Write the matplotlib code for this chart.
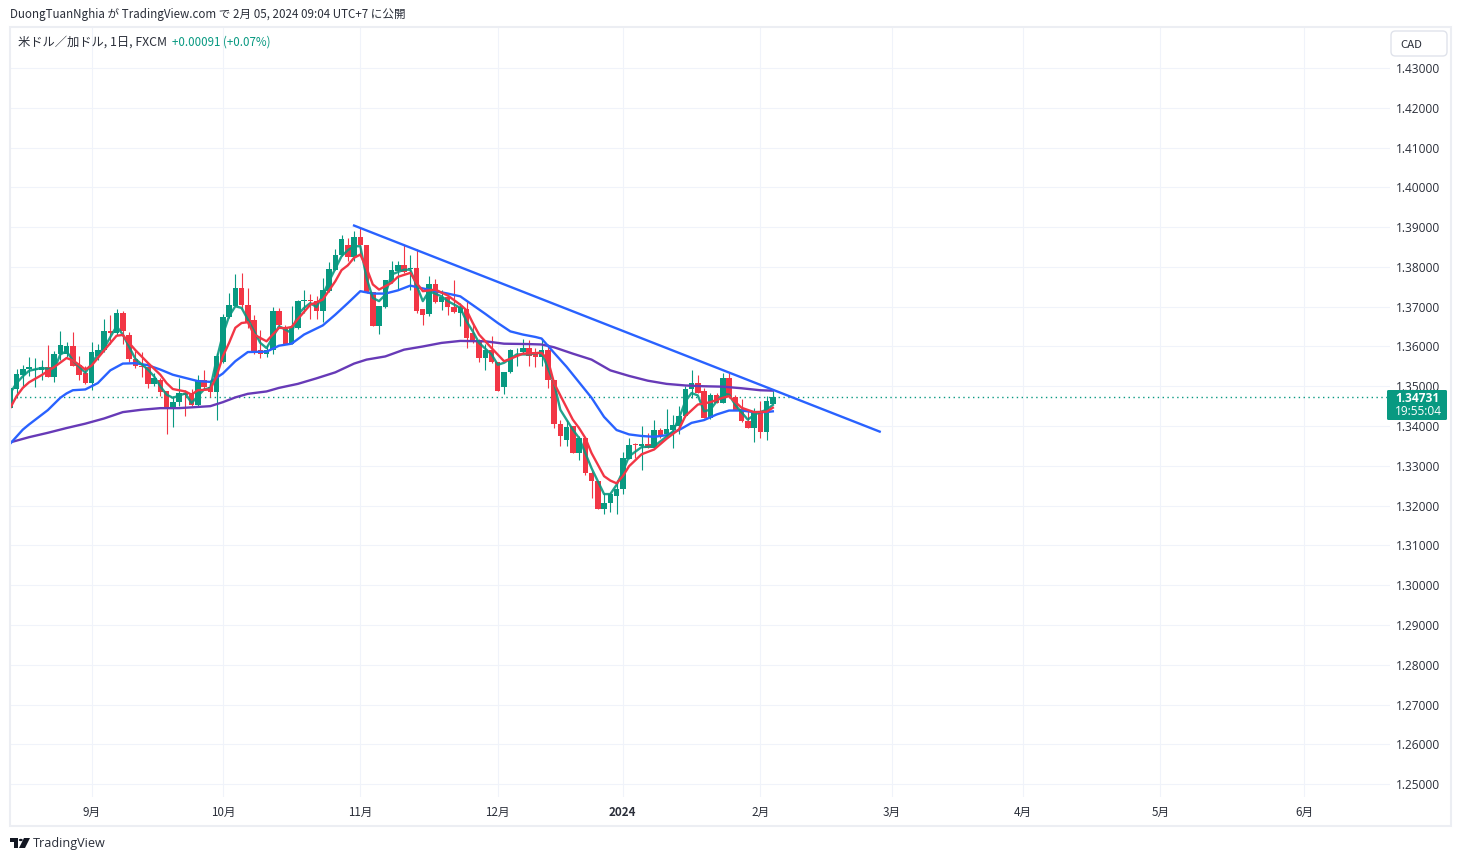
import matplotlib
matplotlib.use('Agg')
import matplotlib.pyplot as plt
from matplotlib.patches import Rectangle, FancyBboxPatch, Polygon, Circle

# USD/CAD daily candles
opens = [1.3446, 1.3494, 1.3529, 1.3543, 1.3542, 1.3542, 1.3549, 1.3523, 1.3580, 1.3581,
         1.3600, 1.3554, 1.3533, 1.3508, 1.3577, 1.3590, 1.3640, 1.3635, 1.3685, 1.3629,
         1.3569, 1.3552, 1.3549, 1.3505, 1.3517, 1.3487, 1.3444, 1.3460, 1.3484, 1.3482,
         1.3452, 1.3516, 1.3499, 1.3485, 1.3560, 1.3673, 1.3703, 1.3746, 1.3704, 1.3667,
         1.3590, 1.3580, 1.3591, 1.3690, 1.3647, 1.3607, 1.3646, 1.3714, 1.3717, 1.3715,
         1.3688, 1.3739, 1.3793, 1.3829, 1.3854, 1.3824, 1.3874, 1.3856, 1.3738, 1.3651,
         1.3699, 1.3761, 1.3791, 1.3806, 1.3795, 1.3798, 1.3693, 1.3681, 1.3756, 1.3711,
         1.3725, 1.3699, 1.3684, 1.3695, 1.3634, 1.3616, 1.3572, 1.3590, 1.3562, 1.3497,
         1.3535, 1.3590, 1.3586, 1.3597, 1.3581, 1.3573, 1.3590, 1.3517, 1.3406, 1.3364,
         1.3399, 1.3331, 1.3369, 1.3282, 1.3263, 1.3192, 1.3206, 1.3225, 1.3241, 1.3317,
         1.3354, 1.3349, 1.3356, 1.3346, 1.3391, 1.3379, 1.3391, 1.3401, 1.3424, 1.3492,
         1.3507, 1.3487, 1.3419, 1.3479, 1.3459, 1.3522, 1.3473, 1.3443, 1.3413, 1.3396,
         1.3433, 1.3384, 1.3456]
closes = [1.3496, 1.3532, 1.3544, 1.3549, 1.3544, 1.3549, 1.3523, 1.3581, 1.3604, 1.3600,
          1.3550, 1.3529, 1.3508, 1.3586, 1.3590, 1.3640, 1.3633, 1.3685, 1.3638, 1.3568,
          1.3550, 1.3548, 1.3505, 1.3521, 1.3485, 1.3443, 1.3461, 1.3483, 1.3478, 1.3452,
          1.3516, 1.3497, 1.3485, 1.3577, 1.3675, 1.3705, 1.3746, 1.3704, 1.3658, 1.3586,
          1.3580, 1.3591, 1.3690, 1.3653, 1.3607, 1.3648, 1.3715, 1.3717, 1.3714, 1.3689,
          1.3741, 1.3796, 1.3831, 1.3869, 1.3824, 1.3874, 1.3854, 1.3735, 1.3651, 1.3701,
          1.3766, 1.3793, 1.3806, 1.3787, 1.3797, 1.3690, 1.3680, 1.3756, 1.3711, 1.3725,
          1.3699, 1.3686, 1.3699, 1.3622, 1.3613, 1.3572, 1.3591, 1.3560, 1.3487, 1.3537,
          1.3592, 1.3592, 1.3597, 1.3575, 1.3573, 1.3590, 1.3515, 1.3404, 1.3375, 1.3398,
          1.3331, 1.3370, 1.3281, 1.3261, 1.3192, 1.3207, 1.3230, 1.3242, 1.3320, 1.3353,
          1.3352, 1.3356, 1.3346, 1.3391, 1.3377, 1.3393, 1.3403, 1.3426, 1.3494, 1.3507,
          1.3484, 1.3421, 1.3479, 1.3458, 1.3522, 1.3472, 1.3441, 1.3412, 1.3396, 1.3434,
          1.3384, 1.3464, 1.3473]
highs = [1.3503, 1.3544, 1.3553, 1.3574, 1.3571, 1.3567, 1.3604, 1.3588, 1.3639, 1.3612,
         1.3637, 1.3577, 1.3550, 1.3612, 1.3605, 1.3670, 1.3678, 1.3695, 1.3690, 1.3637,
         1.3588, 1.3586, 1.3550, 1.3534, 1.3521, 1.3487, 1.3475, 1.3521, 1.3490, 1.3492,
         1.3529, 1.3542, 1.3512, 1.3584, 1.3681, 1.3735, 1.3781, 1.3785, 1.3746, 1.3680,
         1.3642, 1.3604, 1.3699, 1.3697, 1.3653, 1.3703, 1.3718, 1.3741, 1.3733, 1.3726,
         1.3772, 1.3813, 1.3844, 1.3881, 1.3873, 1.3891, 1.3901, 1.3856, 1.3738, 1.3701,
         1.3766, 1.3816, 1.3816, 1.3856, 1.3831, 1.3844, 1.3693, 1.3778, 1.3770, 1.3743,
         1.3730, 1.3766, 1.3710, 1.3714, 1.3659, 1.3619, 1.3607, 1.3626, 1.3562, 1.3537,
         1.3594, 1.3596, 1.3619, 1.3617, 1.3596, 1.3619, 1.3607, 1.3517, 1.3416, 1.3416,
         1.3399, 1.3375, 1.3369, 1.3286, 1.3263, 1.3232, 1.3232, 1.3265, 1.3335, 1.3370,
         1.3358, 1.3399, 1.3383, 1.3414, 1.3395, 1.3443, 1.3429, 1.3450, 1.3500, 1.3542,
         1.3529, 1.3496, 1.3483, 1.3483, 1.3534, 1.3534, 1.3479, 1.3467, 1.3441, 1.3446,
         1.3463, 1.3475, 1.3487]
lows = [1.3446, 1.3471, 1.3500, 1.3525, 1.3497, 1.3515, 1.3523, 1.3510, 1.3567, 1.3574,
        1.3550, 1.3515, 1.3506, 1.3490, 1.3567, 1.3585, 1.3607, 1.3630, 1.3607, 1.3562,
        1.3545, 1.3523, 1.3495, 1.3500, 1.3475, 1.3379, 1.3397, 1.3450, 1.3425, 1.3450,
        1.3451, 1.3492, 1.3473, 1.3416, 1.3559, 1.3672, 1.3701, 1.3693, 1.3647, 1.3582,
        1.3570, 1.3574, 1.3581, 1.3651, 1.3607, 1.3605, 1.3643, 1.3683, 1.3670, 1.3669,
        1.3661, 1.3737, 1.3792, 1.3827, 1.3814, 1.3814, 1.3831, 1.3735, 1.3651, 1.3631,
        1.3697, 1.3760, 1.3745, 1.3785, 1.3743, 1.3684, 1.3655, 1.3676, 1.3710, 1.3691,
        1.3680, 1.3684, 1.3651, 1.3595, 1.3609, 1.3560, 1.3542, 1.3559, 1.3487, 1.3480,
        1.3534, 1.3550, 1.3584, 1.3550, 1.3548, 1.3550, 1.3496, 1.3394, 1.3351, 1.3351,
        1.3331, 1.3314, 1.3278, 1.3220, 1.3191, 1.3178, 1.3183, 1.3178, 1.3228, 1.3316,
        1.3320, 1.3289, 1.3346, 1.3344, 1.3370, 1.3370, 1.3344, 1.3379, 1.3423, 1.3471,
        1.3483, 1.3421, 1.3418, 1.3457, 1.3457, 1.3471, 1.3440, 1.3411, 1.3396, 1.3359,
        1.3369, 1.3366, 1.3456]

# moving averages, bar number and price at the bends
green_bars = [0, 1, 2, 3, 5, 7, 8, 9, 10, 12, 14, 15, 17, 18, 20, 22, 23, 24, 25, 26, 28, 29, 31, 32, 33, 34,
              35, 36, 37, 38, 40, 41, 43, 45, 46, 47, 48, 49, 50, 51, 53, 54, 55, 56, 57, 58, 59, 60, 61, 63,
              64, 66, 67, 69, 70, 72, 73, 74, 75, 77, 78, 79, 81, 83, 85, 86, 87, 88, 90, 91, 93, 95, 96, 97,
              98, 99, 101, 103, 106, 107, 108, 109, 110, 111, 112, 113, 114, 115, 116, 118, 119, 120, 121, 122]
green_ma = [1.3483, 1.3508, 1.3525, 1.3539, 1.3546, 1.3542, 1.3580, 1.3588, 1.3565, 1.3534, 1.3580, 1.3596,
            1.3651, 1.3630, 1.3569, 1.3542, 1.3525, 1.3500, 1.3479, 1.3471, 1.3482, 1.3458, 1.3492, 1.3496,
            1.3567, 1.3630, 1.3676, 1.3701, 1.3697, 1.3668, 1.3609, 1.3596, 1.3651, 1.3634, 1.3680, 1.3697,
            1.3709, 1.3699, 1.3730, 1.3764, 1.3827, 1.3842, 1.3852, 1.3852, 1.3772, 1.3722, 1.3714, 1.3730,
            1.3781, 1.3793, 1.3793, 1.3714, 1.3739, 1.3726, 1.3714, 1.3697, 1.3663, 1.3638, 1.3609, 1.3580,
            1.3554, 1.3559, 1.3580, 1.3580, 1.3585, 1.3546, 1.3508, 1.3441, 1.3391, 1.3370, 1.3294, 1.3229,
            1.3229, 1.3252, 1.3286, 1.3324, 1.3347, 1.3349, 1.3386, 1.3420, 1.3462, 1.3483, 1.3477, 1.3437,
            1.3441, 1.3462, 1.3481, 1.3479, 1.3453, 1.3416, 1.3428, 1.3435, 1.3441, 1.3453]
red_bars = [0, 1, 2, 3, 5, 7, 9, 10, 11, 12, 13, 15, 17, 18, 19, 20, 22, 24, 25, 26, 28, 29, 30, 32, 33, 34,
            35, 36, 37, 38, 39, 41, 43, 44, 45, 46, 48, 49, 50, 52, 53, 54, 55, 56, 57, 58, 59, 61, 62, 64,
            65, 66, 68, 70, 72, 73, 74, 75, 77, 79, 80, 82, 85, 86, 87, 88, 90, 91, 92, 93, 95, 96, 97, 98,
            99, 101, 103, 105, 107, 108, 110, 112, 114, 115, 117, 119, 121, 122]
red_ma = [1.3446, 1.3475, 1.3496, 1.3510, 1.3528, 1.3548, 1.3571, 1.3565, 1.3554, 1.3542, 1.3552, 1.3590,
          1.3627, 1.3629, 1.3609, 1.3591, 1.3559, 1.3529, 1.3508, 1.3493, 1.3487, 1.3479, 1.3490, 1.3492,
          1.3525, 1.3575, 1.3609, 1.3647, 1.3659, 1.3661, 1.3630, 1.3613, 1.3647, 1.3646, 1.3649, 1.3669,
          1.3705, 1.3711, 1.3718, 1.3764, 1.3792, 1.3804, 1.3823, 1.3831, 1.3797, 1.3756, 1.3743, 1.3760,
          1.3775, 1.3785, 1.3760, 1.3739, 1.3743, 1.3728, 1.3705, 1.3691, 1.3659, 1.3630, 1.3596, 1.3563,
          1.3569, 1.3582, 1.3584, 1.3567, 1.3508, 1.3477, 1.3416, 1.3395, 1.3370, 1.3332, 1.3274, 1.3263,
          1.3256, 1.3274, 1.3299, 1.3329, 1.3341, 1.3368, 1.3392, 1.3425, 1.3454, 1.3460, 1.3471, 1.3475,
          1.3446, 1.3435, 1.3436, 1.3446]
blue_bars = [0, 2, 3, 6, 8, 9, 10, 12, 14, 16, 18, 20, 22, 24, 26, 28, 30, 32, 34, 36, 38, 41, 43, 45, 47, 50,
             52, 54, 56, 58, 60, 62, 64, 66, 68, 70, 72, 74, 76, 78, 80, 82, 84, 85, 87, 89, 91, 93, 95, 97,
             99, 101, 103, 105, 107, 109, 111, 113, 115, 117, 119, 121, 122]
blue_ma = [1.3356, 1.3391, 1.3404, 1.3440, 1.3471, 1.3482, 1.3490, 1.3492, 1.3508, 1.3540, 1.3557, 1.3558,
           1.3553, 1.3542, 1.3529, 1.3521, 1.3513, 1.3511, 1.3532, 1.3563, 1.3586, 1.3587, 1.3602, 1.3607,
           1.3630, 1.3653, 1.3680, 1.3709, 1.3739, 1.3733, 1.3733, 1.3741, 1.3753, 1.3746, 1.3739, 1.3733,
           1.3726, 1.3704, 1.3682, 1.3659, 1.3638, 1.3630, 1.3624, 1.3620, 1.3584, 1.3549, 1.3510, 1.3471,
           1.3423, 1.3390, 1.3379, 1.3375, 1.3373, 1.3377, 1.3390, 1.3408, 1.3415, 1.3429, 1.3439, 1.3439,
           1.3435, 1.3435, 1.3437]
purple_bars = [0, 3, 6, 9, 12, 15, 18, 21, 24, 27, 30, 32, 34, 36, 38, 41, 43, 46, 49, 52, 55, 57, 60, 63, 66,
               69, 72, 76, 79, 83, 85, 87, 90, 93, 96, 99, 102, 105, 108, 111, 114, 117, 120, 122]
purple_ma = [1.3359, 1.3372, 1.3383, 1.3395, 1.3406, 1.3419, 1.3435, 1.3441, 1.3445, 1.3445, 1.3448, 1.3450,
             1.3460, 1.3472, 1.3481, 1.3487, 1.3496, 1.3506, 1.3520, 1.3535, 1.3557, 1.3567, 1.3575, 1.3592,
             1.3600, 1.3609, 1.3614, 1.3613, 1.3607, 1.3606, 1.3605, 1.3598, 1.3582, 1.3567, 1.3540, 1.3526,
             1.3514, 1.3506, 1.3502, 1.3500, 1.3499, 1.3495, 1.3490, 1.3489]

trend_bars = [55, 139.1]
trend_prices = [1.3904, 1.3386]

price_ticks = [1.25, 1.26, 1.27, 1.28, 1.29, 1.30, 1.31, 1.32, 1.33, 1.34,
               1.35, 1.36, 1.37, 1.38, 1.39, 1.40, 1.41, 1.42, 1.43]
month_bars = [13, 34, 56, 78, 98, 120, 141, 162, 184, 207]
month_labels = ['9月', '10月', '11月', '12月', '2024', '2月', '3月', '4月', '5月', '6月']
last_price = 1.34731

W, H = 1461, 861
UP = '#089981'
DOWN = '#f23645'
GRID = '#f0f3fa'
TEXT = '#2a2e39'
JP = ['Noto Sans CJK JP', 'DejaVu Sans']

plt.rcParams['font.family'] = JP

fig = plt.figure(figsize=(W / 100, H / 100), dpi=100, facecolor='white')


def fx(px):
    return px / W


def fy(py):
    return 1 - py / H


# pane: x 10..1390, y 28..797
ax = fig.add_axes([fx(10), fy(797), (1390 - 10) / W, (797 - 28) / H])
ax.set_xlim(-0.05, 220.75)
ax.set_ylim(1.24675, 1.44006)
for s in ax.spines.values():
    s.set_visible(False)

ax.set_yticks(price_ticks)
ax.set_yticklabels(['%.5f' % p for p in price_ticks], fontsize=8.6, color=TEXT,
                   family=['Open Sans', 'DejaVu Sans'])
ax.yaxis.tick_right()
ax.set_xticks(month_bars)
ax.set_xticklabels(month_labels, fontsize=8.4, color=TEXT)
ax.tick_params(axis='y', length=0, pad=4.0)
ax.tick_params(axis='x', length=0, pad=6.5)
ax.get_xticklabels()[4].set_fontweight('bold')
ax.grid(True, color=GRID, linewidth=0.75)
ax.set_axisbelow(True)

# candles
for i in range(len(opens)):
    col = UP if closes[i] >= opens[i] else DOWN
    ax.vlines(i, lows[i], highs[i], color=col, linewidth=0.8, zorder=2)
    ax.bar(i, abs(closes[i] - opens[i]), bottom=min(opens[i], closes[i]), width=0.86,
           color=col, linewidth=0, zorder=3)

ax.plot(purple_bars, purple_ma, color='#673ab7', linewidth=1.7, zorder=4)
ax.plot(blue_bars, blue_ma, color='#2962ff', linewidth=1.7, zorder=4)
ax.plot(green_bars, green_ma, color=UP, linewidth=1.7, alpha=0.9, zorder=4)
ax.plot(red_bars, red_ma, color=DOWN, linewidth=1.7, zorder=5)
ax.plot(trend_bars, trend_prices, color='#2962ff', linewidth=1.7, zorder=6)
ax.axhline(last_price, color=UP, linewidth=1.0, linestyle=(0, (1, 2.5)), zorder=1)

# outer frame
fig.add_artist(Rectangle((fx(10), fy(826)), (1451 - 10) / W, (826 - 27) / H, transform=fig.transFigure,
                         fill=False, edgecolor='#eceef3', linewidth=1.5))

# header and legend
fig.text(fx(10), fy(14.5), 'DuongTuanNghia が TradingView.com で 2月 05, 2024 09:04 UTC+7 に公開',
         fontsize=8.35, color=TEXT, va='center', ha='left')
fig.text(fx(18), fy(42), '米ドル／加ドル, 1日, FXCM', fontsize=8.85, color=TEXT, va='center', ha='left')
fig.text(fx(172), fy(42), '+0.00091 (+0.07%)', fontsize=8.3, color=UP, va='center', ha='left')

# currency button
fig.add_artist(FancyBboxPatch((fx(1391), fy(56)), 56 / W, 25 / H, transform=fig.transFigure,
                              boxstyle='round,pad=0,rounding_size=0.003', mutation_aspect=1.7,
                              facecolor='white', edgecolor='#e0e3eb', linewidth=1))
fig.text(fx(1400), fy(44.5), 'CAD', fontsize=8.2, color=TEXT, va='center', ha='left')

# last price tag
fig.add_artist(FancyBboxPatch((fx(1387), fy(420)), 60 / W, 30 / H, transform=fig.transFigure,
                              boxstyle='round,pad=0,rounding_size=0.001', mutation_aspect=1.7,
                              facecolor=UP, edgecolor=UP, linewidth=0, zorder=5))
fig.text(fx(1395), fy(398), '%.5f' % last_price, fontsize=8.6, fontweight='bold', color='white',
         va='center', ha='left', zorder=6, family=['Open Sans', 'DejaVu Sans'])
fig.text(fx(1395), fy(411.5), '19:55:04', fontsize=8.6, color='white', va='center', ha='left', zorder=6,
         family=['Open Sans', 'DejaVu Sans'])

# TradingView logo and footer text
logo = '#131722'
fig.add_artist(Polygon([(fx(10), fy(838)), (fx(18), fy(838)), (fx(18), fy(848)), (fx(14), fy(848)),
                        (fx(14), fy(842)), (fx(10), fy(842))], closed=True, transform=fig.transFigure,
                       facecolor=logo, edgecolor='none'))
fig.add_artist(Polygon([(fx(24), fy(838)), (fx(30), fy(838)), (fx(25), fy(848)), (fx(19), fy(848))], closed=True,
                       transform=fig.transFigure, facecolor=logo, edgecolor='none'))
fig.add_artist(Circle((fx(20.8), fy(840)), 2 / W, transform=fig.transFigure, facecolor=logo, edgecolor='none'))
fig.text(fx(33), fy(843.5), 'TradingView', fontsize=9.1, color=TEXT, va='center', ha='left',
         family=['Open Sans', 'DejaVu Sans'])

fig.savefig('out.png', dpi=100, facecolor='white')
